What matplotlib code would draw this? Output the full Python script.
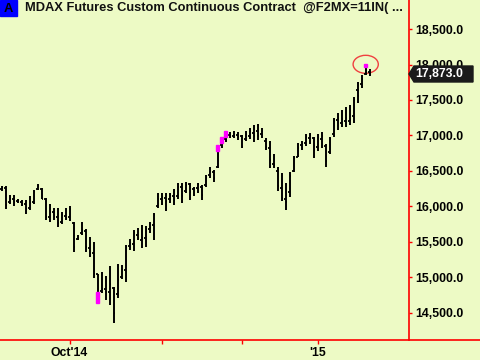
import matplotlib
matplotlib.use("Agg")
import matplotlib.pyplot as plt
import numpy as np
from matplotlib.patches import Ellipse, Rectangle, Polygon
from matplotlib.lines import Line2D

plt.rcParams['font.family'] = ['Liberation Sans', 'DejaVu Sans']
plt.rcParams['font.weight'] = 'bold'

# daily OHLC bars, Sept 2014 - Jan 2015
highs = [16290, 16290, 16160, 16160, 16100, 16090, 16090, 16150, 16230, 16320,
         16260, 16120, 16030, 15980, 15980, 15920, 15980, 16000, 15780, 15600,
         15780, 15680, 15570, 15500, 15050, 15070, 15020, 15160, 14860, 15190,
         15170, 15460, 15540, 15670, 15690, 15740, 15720, 15780, 15910, 16190,
         16190, 16190, 16190, 16240, 16330, 16330, 16340, 16330, 16270, 16330,
         16300, 16440, 16550, 16510, 16860, 16980, 17060, 17050, 17060, 17050,
         17010, 17060, 17100, 17150, 17160, 17100, 16960, 16920, 16740, 16560,
         16470, 16330, 16480, 16710, 16890, 16920, 17020, 17030, 16980, 17020,
         17050, 16880, 16980, 17250, 17320, 17360, 17400, 17430, 17540, 17750,
         17850, 17990, 17940]
lows = [16220, 15960, 16030, 16000, 16050, 16000, 15890, 15950, 16030, 16230,
        16100, 15810, 15780, 15810, 15710, 15750, 15810, 15790, 15360, 15520,
        15600, 15360, 15290, 14990, 14720, 14780, 14680, 14610, 14360, 14710,
        14980, 14930, 15380, 15370, 15530, 15410, 15430, 15620, 15530, 15980,
        16020, 15930, 16050, 16020, 16100, 16050, 16190, 16090, 16150, 16190,
        16090, 16270, 16400, 16340, 16540, 16820, 16910, 16960, 16960, 16940,
        16820, 16920, 16950, 16910, 16940, 16970, 16800, 16540, 16540, 16220,
        16080, 15950, 16130, 16480, 16700, 16800, 16850, 16880, 16680, 16780,
        16820, 16560, 16740, 16980, 17080, 17120, 17120, 17150, 17180, 17460,
        17670, 17850, 17840]
opens = [16250, 16260, 16060, 16100, 16070, 16060, 16040, 15980, 16060, 16240,
         16240, 16100, 15850, 15920, 15850, 15780, 15870, 15850, 15760, 15540,
         15620, 15650, 15410, 15340, 15040, 14800, 14830, 14790, 14850, 14760,
         15010, 15100, 15440, 15470, 15600, 15520, 15560, 15680, 15740, 16010,
         16100, 16120, 16100, 16150, 16150, 16270, 16220, 16310, 16240, 16260,
         16270, 16300, 16440, 16480, 16560, 16860, 16950, 17000, 16990, 17000,
         16990, 16950, 16990, 17040, 17060, 17020, 16920, 16820, 16600, 16500,
         16260, 16100, 16200, 16500, 16700, 16860, 16900, 16960, 16960, 16830,
         16950, 16850, 16760, 17020, 17220, 17180, 17200, 17210, 17280, 17640,
         17720, 17870, 17900]
closes = [16270, 16020, 16100, 16060, 16080, 16030, 15960, 16050, 16200, 16290,
          16110, 15850, 15920, 15850, 15760, 15880, 15830, 15960, 15420, 15560,
          15660, 15420, 15340, 15040, 14740, 14830, 14790, 14900, 14500, 14960,
          15100, 15420, 15480, 15620, 15560, 15560, 15680, 15700, 15880, 16100,
          16130, 16080, 16160, 16090, 16270, 16150, 16300, 16200, 16260, 16310,
          16160, 16400, 16500, 16400, 16840, 16940, 17000, 16990, 17010, 16980,
          16840, 17020, 17060, 16990, 16990, 17060, 16830, 16660, 16580, 16280,
          16120, 16060, 16430, 16680, 16820, 16880, 16980, 17000, 16800, 16980,
          16990, 16640, 16950, 17210, 17240, 17230, 17250, 17220, 17500, 17560,
          17800, 17880, 17873]

# highlighted (magenta) bar segments: bar index, top, bottom
mark_idx = [24, 54, 55, 56, 91]
mark_top = [14790, 16865, 16980, 17065, 18005]
mark_bot = [14630, 16780, 16895, 16980, 17960]

last_price = 17873.0
y_ticks = [14500, 15000, 15500, 16000, 16500, 17000, 17500, 18000, 18500]
x_tick_pos = [17, 40, 60, 79]
x_tick_lab = ["Oct'14", "", "", "'15"]

bg = '#EDFAC5'
red = '#FF0000'

fig = plt.figure(figsize=(4.8, 3.6), dpi=100, facecolor=bg)
ax = fig.add_axes([0, 20 / 360, 409 / 480, 340 / 360], facecolor=bg)

idx = np.arange(len(highs))
ax.vlines(idx, lows, highs, color='black', lw=1.4)
ax.hlines(opens, idx - 0.4, idx, color='black', lw=1.3)
ax.hlines(closes, idx, idx + 0.4, color='black', lw=1.3)

for i, t, b in zip(mark_idx, mark_top, mark_bot):
    ax.add_patch(Rectangle((i - 0.35, b), 0.7, t - b, color='#FF00FF', zorder=3))

ax.add_patch(Ellipse((91.05, 18003), 6.3, 254, fill=False, edgecolor='#F04040', lw=1.0))

ax.set_xlim(-0.375, 101.875)
ax.set_ylim(14115, 18910)

ax.yaxis.tick_right()
ax.set_yticks(y_ticks)
ax.set_yticklabels(['{:,.1f}'.format(v) for v in y_ticks])
ax.tick_params(axis='y', colors=red, labelcolor='black', length=2.5, width=1,
               pad=2, labelsize=8.8)
ax.set_xticks(x_tick_pos)
ax.set_xticklabels(x_tick_lab)
ax.tick_params(axis='x', colors=red, labelcolor='black', length=3, width=1,
               pad=2, labelsize=8.8)

for s in ['top', 'left', 'bottom']:
    ax.spines[s].set_visible(False)
ax.spines['right'].set_color(red)
ax.spines['right'].set_linewidth(1.2)

# bottom axis line spans whole figure width
fig.add_artist(Line2D([0, 1], [20 / 360, 20 / 360], color=red, lw=1.2))

# title
fig.add_artist(Rectangle((0, 1 - 16 / 360), 17 / 480, 16 / 360, color='#0000FF',
                         transform=fig.transFigure))
fig.text(8.5 / 480, 1 - 8.5 / 360, 'A', ha='center', va='center', fontsize=9.3,
         fontweight='bold', color='black')
fig.text(25 / 480, 1 - 8.5 / 360,
         'MDAX Futures Custom Continuous Contract  @F2MX=11IN( ...',
         ha='left', va='center', fontsize=9.3, fontweight='bold', color='#111111')

# last price tag
ty = 360 - 74
tag = [(409, ty), (414, ty + 8), (473, ty + 8), (473, ty - 8), (414, ty - 8)]
tag = [(x / 480, y / 360) for x, y in tag]
fig.add_artist(Polygon(tag, closed=True, color='#1A1A1A', transform=fig.transFigure))
fig.text(415 / 480, ty / 360, '{:,.1f}'.format(last_price), ha='left', va='center',
         fontsize=8.8, fontweight='bold', color='white')

fig.savefig('out.png', dpi=100, facecolor=bg)
